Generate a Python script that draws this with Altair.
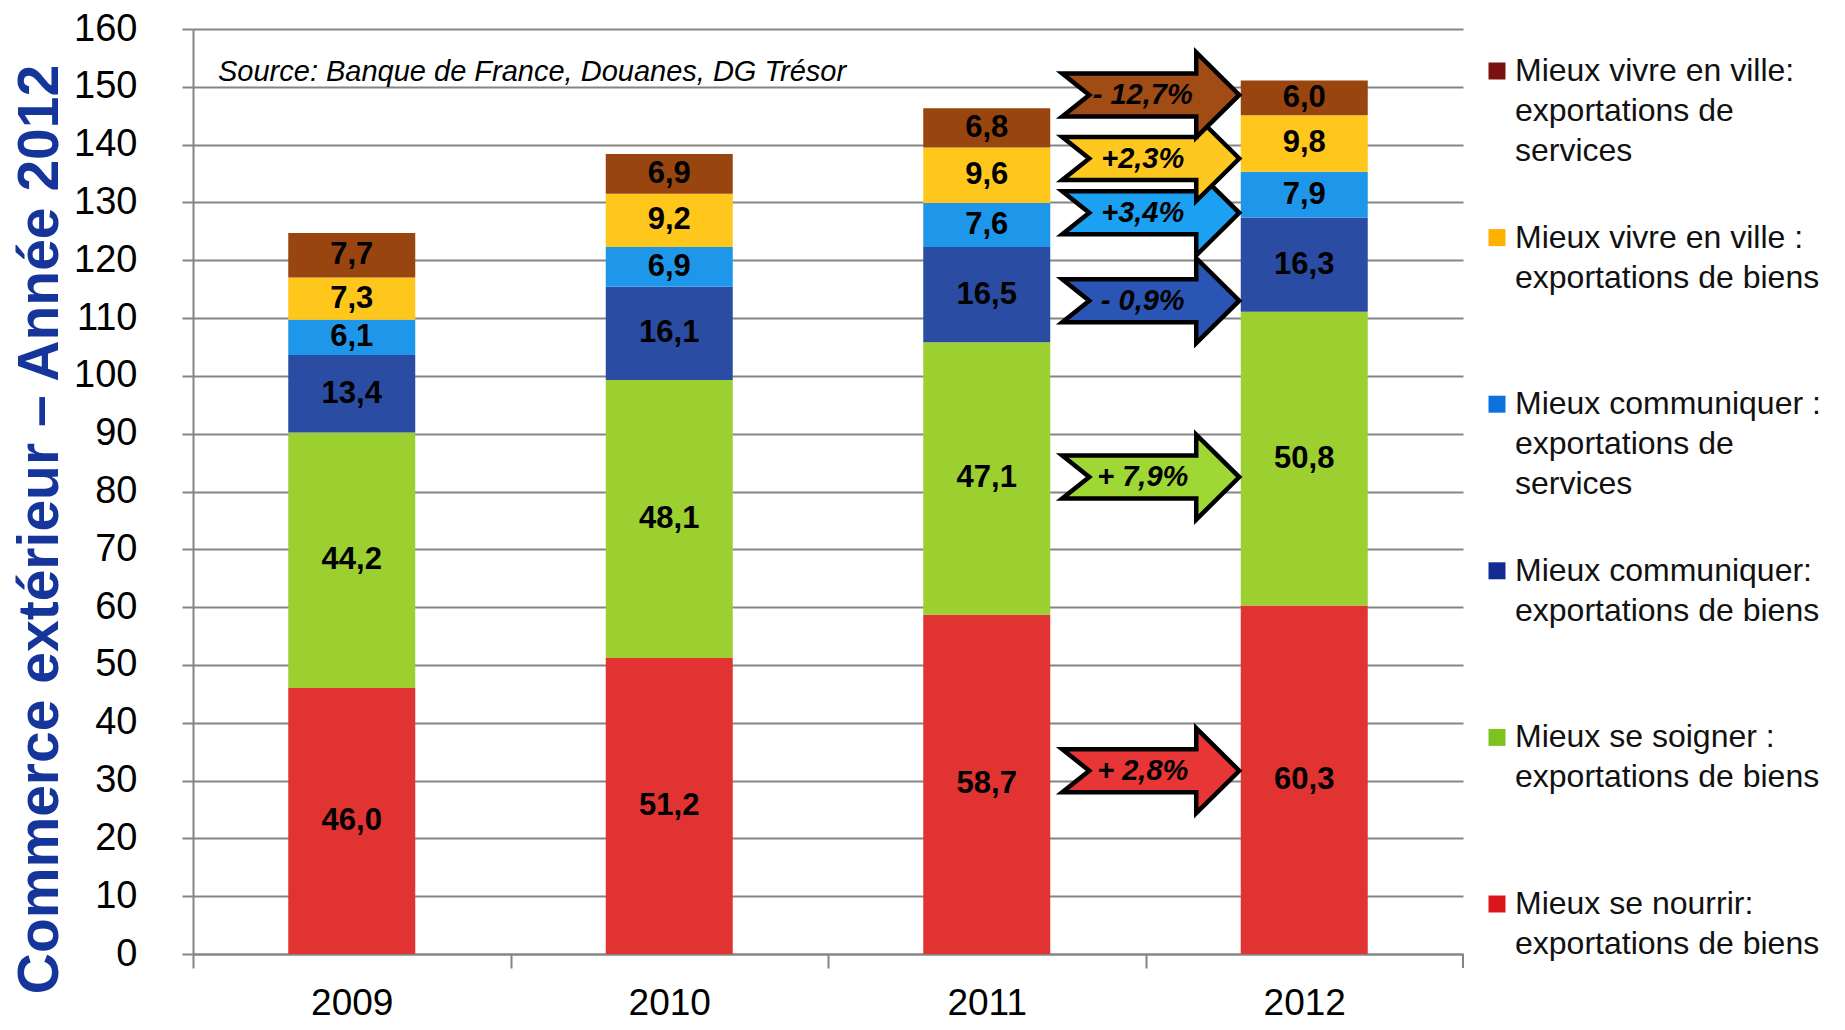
import altair as alt
import pandas as pd

# ---------------- data ----------------
years = ["2009", "2010", "2011", "2012"]

# stacking order, bottom -> top
keys = ["nourrir", "soigner", "comm_biens", "comm_serv", "ville_biens", "ville_serv"]

nourrir = [46.0, 51.2, 58.7, 60.3]
soigner = [44.2, 48.1, 47.1, 50.8]
comm_biens = [13.4, 16.1, 16.5, 16.3]
comm_serv = [6.1, 6.9, 7.6, 7.9]
ville_biens = [7.3, 9.2, 9.6, 9.8]
ville_serv = [7.7, 6.9, 6.8, 6.0]

series = [nourrir, soigner, comm_biens, comm_serv, ville_biens, ville_serv]

# change 2011 -> 2012 printed in arrows (same order as keys)
change_labels = ["+ 2,8%", "+ 7,9%", "- 0,9%", "+3,4%", "+2,3%", "- 12,7%"]
# level (value axis) at which each arrow sits
arrow_levels = [31.7, 82.5, 113.0, 128.2, 137.6, 148.6]

legend_labels = [
    "Mieux se nourrir:\nexportations de biens",
    "Mieux se soigner :\nexportations de biens",
    "Mieux communiquer:\nexportations de biens",
    "Mieux communiquer :\nexportations de\nservices",
    "Mieux vivre en ville :\nexportations de biens",
    "Mieux vivre en ville:\nexportations de\nservices",
]

source_text = "Source: Banque de France, Douanes, DG Trésor"
y_title = "Commerce extérieur – Année 2012"

# ---------------- styles ----------------
BAR_COLORS = ["#E23333", "#9CCF30", "#2A4CA3", "#1E97EA", "#FFC61C", "#98450F"]
ARROW_COLORS = ["#E83535", "#9FD834", "#2B55B5", "#1CA0F2", "#FFC820", "#A04C14"]
LEGEND_COLORS = ["#DA161C", "#7EC21F", "#112D92", "#0B72DE", "#FFB000", "#7A1212"]
FONT = "Liberation Sans, Arial, sans-serif"
GRID = "#858585"
ARROW = "M -1 -0.243 L 0.514 -0.243 L 0.514 -0.48 L 1 0 L 0.514 0.48 L 0.514 0.243 L -1 0.243 L -0.695 0 Z"

W, H = 1270, 925
STEP = W / 4.0

# ---------------- tables ----------------
rows = []
for yi, yr in enumerate(years):
    cum = 0.0
    for ki, k in enumerate(keys):
        v = series[ki][yi]
        rows.append({
            "year": yr, "key": k, "value": v, "order": ki,
            "mid": cum + v / 2.0,
            "label": f"{v:.1f}".replace(".", ","),
        })
        cum += v
bars_df = pd.DataFrame(rows)

arrow_df = pd.DataFrame({
    "year": ["2011"] * len(keys), "key": keys,
    "ay": arrow_levels, "txt": change_labels,
})

legend_df = pd.DataFrame({"key": keys, "label": legend_labels})
legend_order = list(reversed(keys))

# ---------------- scales / axes ----------------
xscale = alt.Scale(paddingInner=0.6, paddingOuter=0.3)
yscale = alt.Scale(domain=[0, 160], nice=False, zero=True)

xaxis = alt.Axis(
    title=None, labelAngle=0, labelFont=FONT, labelFontSize=37, labelColor="#000000",
    labelPadding=17, tickOffset=-STEP / 2, labelOffset=STEP / 2,
    ticks=True, tickSize=14, tickColor=GRID,
    tickWidth=2, domainColor=GRID, domainWidth=2, grid=False,
)
yaxis = alt.Axis(
    values=list(range(0, 161, 10)), labelFont=FONT, labelFontSize=38,
    labelColor="#000000", labelPadding=45, tickSize=11, tickColor=GRID, tickWidth=2,
    domainColor=GRID, domainWidth=2, grid=True, gridColor=GRID, gridWidth=2,
    titleFont=FONT, titleFontSize=57, titleFontWeight="bold", titleColor="#15359A",
    titleX=-153, titleY=500, titleAngle=270, titleAlign="center", titleBaseline="middle",
)

# ---------------- layers ----------------
bars = alt.Chart(bars_df).mark_bar().encode(
    x=alt.X("year:N", scale=xscale, axis=xaxis),
    y=alt.Y("value:Q", stack="zero", scale=yscale, axis=yaxis, title=y_title),
    color=alt.Color("key:N", scale=alt.Scale(domain=keys, range=BAR_COLORS), legend=None),
    order=alt.Order("order:Q"),
)

last_tick = alt.Chart(pd.DataFrame({"t": [0]})).mark_rule(
    color=GRID, strokeWidth=2
).encode(x=alt.value(W), y=alt.value(H), y2=alt.value(H + 14))

bar_labels = alt.Chart(bars_df).mark_text(
    font=FONT, fontSize=31, fontWeight="bold", color="#000000", baseline="middle"
).encode(
    x=alt.X("year:N"),
    y=alt.Y("mid:Q", scale=yscale, axis=None),
    text="label:N",
)

arrows = alt.Chart(arrow_df).mark_point(
    shape=ARROW, size=31329, filled=True, opacity=1, stroke="#000000",
    strokeWidth=4.5, xOffset=164,
).encode(
    x=alt.X("year:N"),
    y=alt.Y("ay:Q", scale=yscale, axis=None),
    color=alt.Color("key:N", scale=alt.Scale(domain=keys, range=ARROW_COLORS), legend=None),
)

arrow_text = alt.Chart(arrow_df).mark_text(
    font=FONT, fontSize=29, fontWeight="bold", fontStyle="italic", color="#000000",
    baseline="middle", xOffset=156,
).encode(
    x=alt.X("year:N"),
    y=alt.Y("ay:Q", scale=yscale, axis=None),
    text="txt:N",
)

leg_y = alt.Scale(type="point", domain=legend_order, range=[42, 875], padding=0)

legend_sq = alt.Chart(legend_df).mark_square(size=289, filled=True, opacity=1).encode(
    x=alt.value(1304),
    y=alt.Y("key:N", scale=leg_y, axis=None),
    color=alt.Color("key:N", scale=alt.Scale(domain=keys, range=LEGEND_COLORS), legend=None),
)

legend_txt = alt.Chart(legend_df).mark_text(
    font=FONT, fontSize=32, color="#111111", align="left", baseline="top",
    lineBreak="\n", lineHeight=40, dy=-15,
).encode(
    x=alt.value(1322),
    y=alt.Y("key:N", scale=leg_y, axis=None),
    text="label:N",
)

source = alt.Chart(pd.DataFrame({"t": [source_text]})).mark_text(
    font=FONT, fontSize=29, fontStyle="italic", color="#000000", align="left",
    baseline="middle",
).encode(x=alt.value(25), y=alt.value(43), text="t:N")

chart = alt.layer(
    bars, last_tick, bar_labels, arrows, arrow_text, legend_sq, legend_txt, source
).resolve_scale(
    y="independent", color="independent"
).properties(
    width=W, height=H,
    autosize=alt.AutoSizeParams(type="none"),
    padding={"left": 185, "top": 21, "right": 374, "bottom": 68},
    background="#ffffff",
).configure_view(stroke=None)

chart.save("out.html", embed_options={"renderer": "svg", "actions": False})
